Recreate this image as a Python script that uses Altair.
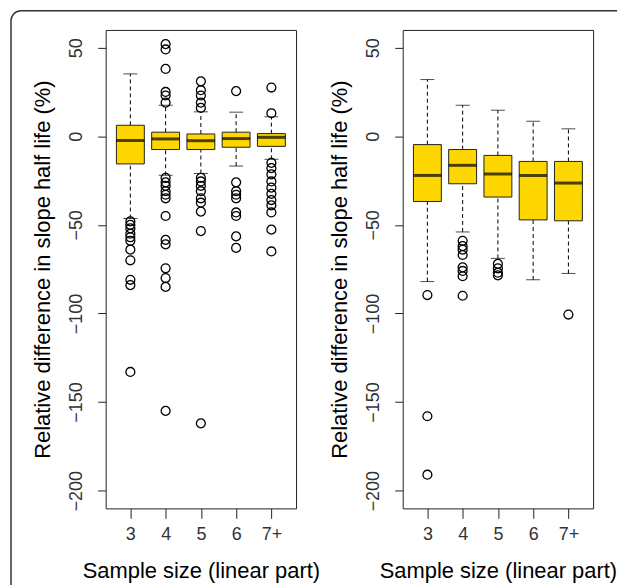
import altair as alt
import pandas as pd

cats = ["3", "4", "5", "6", "7+"]

# Left panel box statistics
L_q1 = [-15.6, -7.5, -7.5, -6.2, -5.7]
L_q3 = [6.2, 2.3, 1.3, 2.3, 1.5]
L_med = [-2.4, -1.5, -2.5, -1.3, -0.6]
L_hi = [35.2, 17.5, 13.8, 13.6, 11.0]
L_lo = [-46.4, -22.0, -21.0, -16.8, -13.0]
L_out = {
    "3": [-48, -50, -52, -55, -57, -59, -64, -70, -81, -84, -133],
    "4": [52, 49, 38, 25, 23, 19, -23.5, -26, -28, -31, -33, -35, -45, -58.5, -61, -74.5, -80, -85, -155],
    "5": [31, 26, 23, 19, 16, -23.5, -25.5, -28, -31, -35, -37.5, -42.5, -53.5, -162],
    "6": [25.5, -26, -31, -33, -35, -43, -45, -56.5, -63],
    "7+": [27.5, 13, -15, -18, -21.5, -25.5, -29, -32.5, -36, -39, -43, -52.7, -65],
}

# Right panel box statistics
R_q1 = [-36.8, -26.8, -34.3, -47.2, -47.7]
R_q3 = [-4.7, -7.5, -10.8, -14.2, -14.2]
R_med = [-22.1, -16.4, -21.3, -22.1, -26.4]
R_hi = [32.0, 17.5, 14.7, 8.5, 4.2]
R_lo = [-82.0, -54.0, -68.9, -81.0, -77.4]
R_out = {
    "3": [-89.6, -158, -191],
    "4": [-59, -62, -64, -67, -74, -76, -79, -90],
    "5": [-72, -74.5, -77, -78.5],
    "6": [],
    "7+": [-100.6],
}

y_ticks = [-200, -150, -100, -50, 0, 50]
y_title = "Relative difference in slope half life (%)"
x_title = "Sample size (linear part)"

FONT = "Liberation Sans"
GOLD = "#FFD700"
FRAME = "#333"

xscale = alt.Scale(type="point", domain=cats, padding=0.7)
yscale = alt.Scale(domain=[-210, 60], nice=False, zero=False)


def panel(q1, q3, med, hi, lo, outs, with_frame=False):
    stats = pd.DataFrame({"cat": cats, "q1": q1, "q3": q3, "med": med, "hi": hi, "lo": lo})
    rows = [{"cat": c, "v": v} for c in cats for v in outs[c]]
    odf = pd.DataFrame(rows if rows else [], columns=["cat", "v"])

    x = alt.X("cat:N", scale=xscale, sort=cats,
              axis=alt.Axis(title=x_title, labelAngle=0, tickSize=10, labelPadding=7,
                            titleX=95.5, titleY=62, titleAlign="center",
                            titleBaseline="middle"))
    yax = alt.Axis(values=y_ticks, title=y_title, labelAngle=270, labelAlign="center",
                   labelBaseline="alphabetic", tickSize=8, labelPadding=16,
                   titleAngle=270, titleX=-63, titleY=240, titleAlign="center",
                   titleBaseline="middle")

    base = alt.Chart(stats)
    whisk_up = base.mark_rule(color="black", strokeWidth=1, strokeDash=[4, 3]).encode(
        x=x, y=alt.Y("q3:Q", scale=yscale, axis=yax), y2="hi:Q")
    whisk_lo = base.mark_rule(color="black", strokeWidth=1, strokeDash=[4, 3]).encode(
        x=x, y=alt.Y("lo:Q", scale=yscale), y2="q1:Q")
    cap_hi = base.mark_tick(color="black", size=14, thickness=1).encode(
        x=x, y=alt.Y("hi:Q", scale=yscale))
    cap_lo = base.mark_tick(color="black", size=14, thickness=1).encode(
        x=x, y=alt.Y("lo:Q", scale=yscale))
    box = base.mark_bar(size=28, fill=GOLD, stroke="#222", strokeWidth=1).encode(
        x=x, y=alt.Y("q1:Q", scale=yscale), y2="q3:Q")
    median = base.mark_tick(color="black", size=28, thickness=3).encode(
        x=x, y=alt.Y("med:Q", scale=yscale))
    pts = alt.Chart(odf).mark_point(shape="circle", filled=False, size=80, color="black",
                                    strokeWidth=1.3, opacity=1).encode(
        x=x, y=alt.Y("v:Q", scale=yscale))

    layers = []
    if with_frame:
        one = alt.Chart(pd.DataFrame({"a": [0]}))
        top_line = one.mark_rule(color=FRAME, strokeWidth=1.5, clip=False).encode(
            x=alt.value(-85), x2=alt.value(513), y=alt.value(-19.25))
        left_line = one.mark_rule(color=FRAME, strokeWidth=1.5, clip=False).encode(
            x=alt.value(-95), y=alt.value(-9.25), y2=alt.value(600))
        corner = one.mark_arc(color=FRAME, clip=False).encode(
            x=alt.value(-85), y=alt.value(-9.25),
            theta=alt.value(4.7124), theta2=alt.value(6.2832),
            radius=alt.value(10.75), radius2=alt.value(9.25))
        layers += [top_line, left_line, corner]
    layers += [whisk_up, whisk_lo, cap_hi, cap_lo, box, median, pts]
    return alt.layer(*layers).properties(width=191, height=480)


left = panel(L_q1, L_q3, L_med, L_hi, L_lo, L_out, with_frame=True)
right = panel(R_q1, R_q3, R_med, R_hi, R_lo, R_out)

chart = alt.hconcat(left, right, spacing=107, bounds="flush").properties(
    padding={"left": 1, "top": 0, "right": 0, "bottom": 0}
).configure_view(
    stroke="#222", strokeWidth=1
).configure_axis(
    labelFont=FONT, titleFont=FONT, labelFontSize=18, titleFontSize=22,
    titleFontWeight="normal", labelColor="#333", titleColor="black",
    tickColor="#222", domain=False, grid=False
)

chart.save("out.html", embed_options={"renderer": "svg", "actions": False})
